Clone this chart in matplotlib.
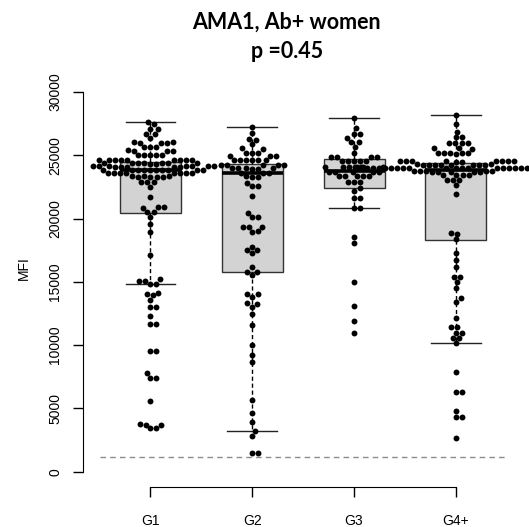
import numpy as np
import matplotlib.pyplot as plt

groups = ["G1", "G2", "G3", "G4+"]

g1_mfi = [3420, 3430, 3700, 3720, 3740, 5620, 7380, 7390, 7780, 9550, 9570,
          11660, 11680, 12300, 13020, 13040, 13560, 14000, 14020, 14140,
          14820, 14840, 15080, 15100, 15210, 17130, 18970, 19570, 20150,
          20530, 20550, 20870, 20880, 20890,
          21730, 22520, 22900, 22910, 22920,
          23300, 23300, 23310, 23310, 23320, 23320, 23330,
          23560, 23560, 23570, 23570, 23570, 23580, 23580, 23590,
          23810, 23810, 23820, 23820, 23820, 23830, 23830, 23840,
          23840, 23850,
          24060, 24070, 24080, 24090, 24100, 24110, 24120, 24130, 24140,
          24150, 24160, 24170,
          24340, 24340, 24350, 24350, 24360, 24360, 24370, 24370, 24380,
          24600, 24600, 24610, 24610, 24620, 24620, 24630, 24630, 24640,
          25000, 25010, 25020, 25030, 25040,
          25340, 25350, 25370, 25380,
          25660, 25670, 25680,
          25990, 25990, 26000, 26010, 26010,
          26340, 26640, 26660, 27040, 27060, 27440, 27650]

g2_mfi = [1490, 1510, 2820, 3240, 3960, 4620, 5670, 8690, 9230, 10010,
          11590, 12460, 13030, 13290, 13310, 13820, 14020, 14040, 15530,
          15790, 15810, 16190, 17260, 17510, 17530, 17780, 18960, 18980,
          19350, 19360, 19370, 20090, 20110, 20410, 21780, 22560, 22580,
          22780,
          23300, 23310, 23320,
          23560, 23570, 23580,
          23950, 23950, 23960, 23960, 23970, 23970,
          24190, 24200, 24210, 24220, 24230,
          24610, 24610, 24620, 24620, 24630, 24640,
          24920, 24930, 24940,
          25190, 25200, 25210,
          25530, 25550, 25880, 26240, 26260, 26720, 27250]

g3_mfi = [10990, 11910, 13120, 14960, 18030, 18560, 20840, 20860, 21590,
          21610, 22200, 22390, 22900, 22910, 22920,
          23320, 23330, 23330, 23340, 23340,
          23690, 23700, 23700, 23710, 23710,
          24030, 24030, 24040, 24040, 24050, 24050,
          24530, 24540, 24540, 24550, 24550,
          24820, 24830, 24840, 24840,
          25200, 25670, 26010, 26030, 26360, 26690, 26710, 27140, 27900]

g4_mfi = [2690, 4340, 4360, 4820, 6310, 6330, 7900, 10140, 10530, 10550,
          10980, 11000, 11450, 11470, 12120, 13430, 13700, 14550, 15010,
          15390, 15410, 16140, 16720, 17250, 18350, 18810, 18830, 21960,
          22670, 23060, 23070, 23080,
          23450, 23460, 23460, 23470,
          23700, 23700, 23710, 23710, 23710, 23720, 23720, 23720, 23730,
          23730,
          23960, 23960, 23970, 23970, 23970, 23980, 23980, 23980, 23980,
          23990, 23990, 23990, 24000, 24000, 24000, 24010, 24010, 24010,
          24020, 24020, 24030, 24030, 24040, 24040,
          24240, 24240, 24250, 24250, 24250, 24260, 24260, 24260, 24270,
          24270, 24280,
          24500, 24500, 24510, 24510, 24510, 24520, 24520, 24530, 24530,
          24540,
          25130, 25140, 25150, 25150, 25160, 25170,
          25530, 25540, 25550,
          25930, 25940, 25950, 25960,
          26400, 26420, 26860, 27460, 28180]

# box statistics as drawn (R boxplot)
box_whislo = [14830, 3240, 20850, 10140]
box_q1 = [20460, 15800, 22390, 18300]
box_med = [23830, 23570, 23750, 23830]
box_q3 = [24450, 24300, 24700, 24400]
box_whishi = [27650, 27250, 27900, 28180]

cutoff = 1160
title = "AMA1, Ab+ women"
p_text = "p =0.45"


def swarm(values, dsize, gsize):
    # beeswarm "swarm" placement, ascending priority
    v = np.asarray(values, float) / dsize
    order = np.argsort(v, kind="stable")
    xs = v[order]
    ys = np.zeros(len(xs))
    for i in range(1, len(xs)):
        xi = xs[i]
        near = xi - xs[:i] < 1
        if not near.any():
            continue
        px = xs[:i][near]
        py = ys[:i][near]
        o = np.argsort(np.abs(py), kind="stable")
        px, py = px[o], py[o]
        off = np.sqrt(1 - (xi - px) ** 2)
        pot = np.concatenate([[0.0], py + off, py - off])
        bad = np.array([np.any((xi - px) ** 2 + (y - py) ** 2 < 0.999) for y in pot])
        pot[bad] = np.inf
        ys[i] = pot[np.argmin(np.abs(pot))]
    out = np.empty(len(xs))
    out[order] = ys * gsize
    return out


fig = plt.figure(figsize=(5.29, 5.27), dpi=100)
W, H = 529, 527
ax = fig.add_axes([83.3 / W, 1 - 487 / H, (523 - 83.3) / W, (487 - 76.7) / H])
ax.set_xlim(0.34, 4.66)
ax.set_ylim(-1200, 31200)

stats = []
for i, g in enumerate(groups):
    stats.append(dict(label=g, whislo=box_whislo[i], q1=box_q1[i], med=box_med[i],
                      q3=box_q3[i], whishi=box_whishi[i], fliers=[]))
ax.bxp(stats, positions=[1, 2, 3, 4], widths=0.6, capwidths=0.49,
       patch_artist=True, showfliers=False,
       boxprops=dict(facecolor="#d3d3d3", edgecolor="#333333", linewidth=1),
       whiskerprops=dict(color="black", linestyle=(0, (3, 2)), linewidth=1),
       capprops=dict(color="#222222", linewidth=1),
       medianprops=dict(color="black", linewidth=2.6, solid_capstyle="butt"))

ax.hlines(cutoff, 0.5, 4.5, colors="#8c8c8c", linestyles=(0, (4, 3)), linewidth=1)

# point spacing ~6 px, converted through the axes scales
p0 = ax.transData.transform((0, 0))
p1 = ax.transData.transform((1, 1000))
px_x = p1[0] - p0[0]
px_v = (p1[1] - p0[1]) / 1000
spacing = 6.0
for i, vals in enumerate([g1_mfi, g2_mfi, g3_mfi, g4_mfi]):
    dx = swarm(vals, spacing / px_v, spacing / px_x)
    ax.scatter(i + 1 + dx, vals, s=18, color="black", linewidths=0,
               zorder=5, clip_on=False)

tick_font = ["Liberation Sans", "DejaVu Sans"]
for s in ["top", "right"]:
    ax.spines[s].set_visible(False)
ax.spines["left"].set_bounds(0, 30000)
ax.spines["bottom"].set_bounds(1, 4)
ax.set_xticks([1, 2, 3, 4])
ax.set_xticklabels(groups, fontsize=10, family=tick_font)
ax.set_yticks(np.arange(0, 30001, 5000))
ax.set_yticklabels([str(v) for v in range(0, 30001, 5000)], fontsize=10,
                   family=tick_font, rotation=90, va="center")
ax.tick_params(axis="y", length=7.2, width=1, pad=8)
ax.tick_params(axis="x", length=7.2, width=1, pad=12)
ax.set_ylabel("MFI", fontsize=10, family=tick_font)
ax.yaxis.set_label_coords(-0.12, 0.5345)

fig.text(286.7 / W, 1 - 28.3 / H, title, ha="center", va="baseline",
         fontsize=15.5, fontweight="bold", family="Lato")
fig.text(286.7 / W, 1 - 58.3 / H, p_text, ha="center", va="baseline",
         fontsize=15.5, fontweight="bold", family="Lato")

fig.savefig("out.png", dpi=100)
